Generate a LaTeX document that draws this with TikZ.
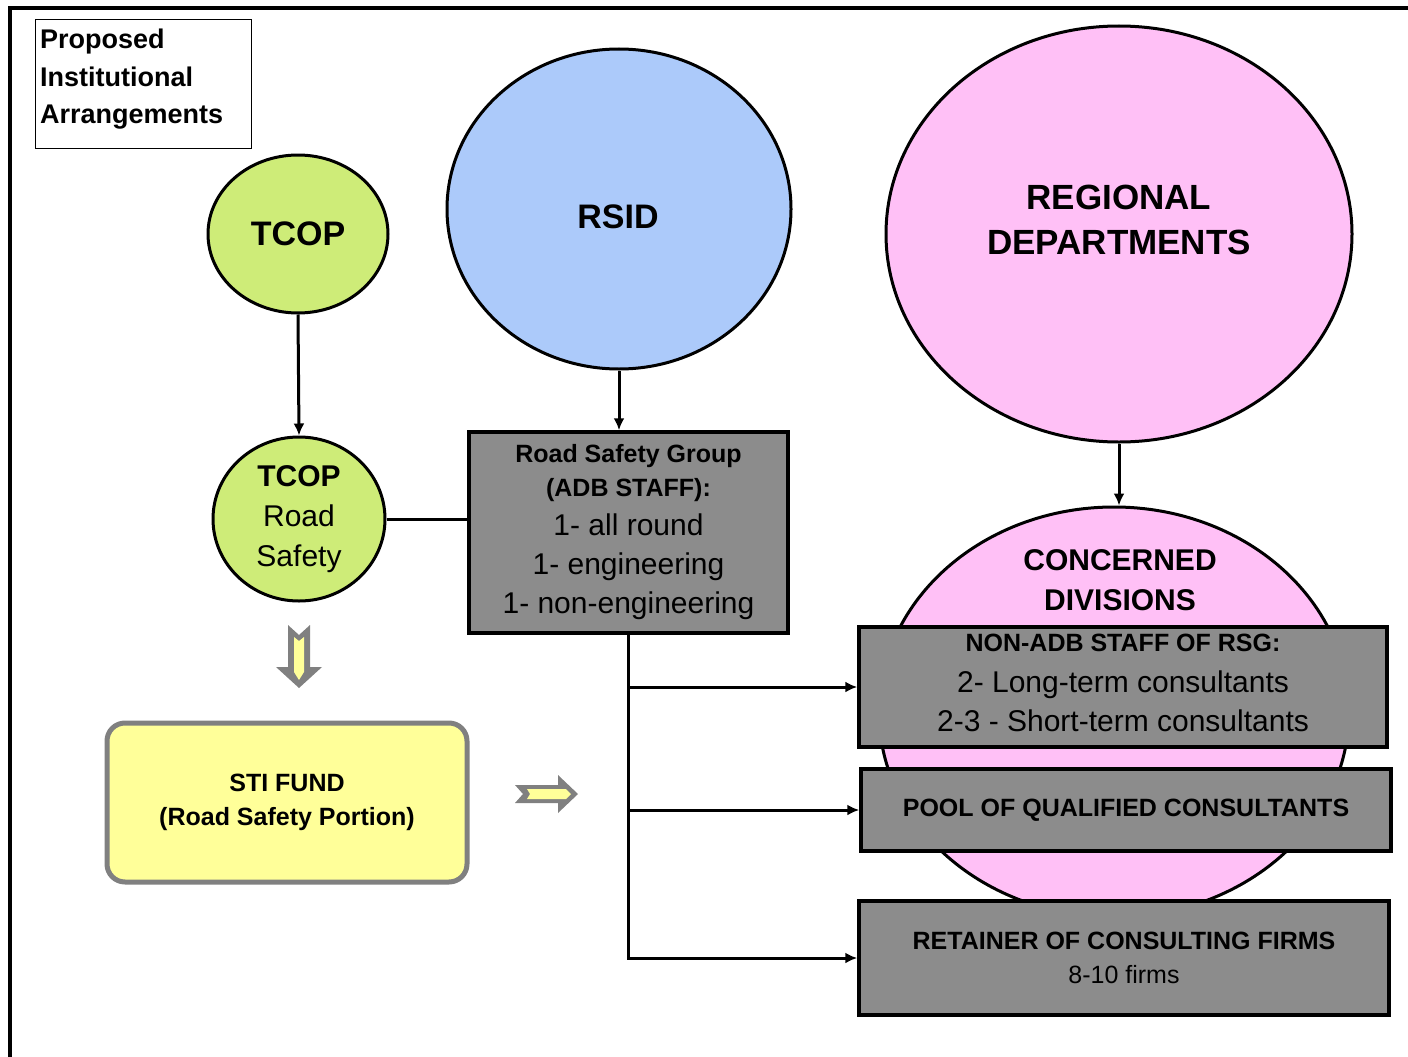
\documentclass[tikz,border=0pt]{standalone}
\usepackage{fontspec}
\setmainfont{Liberation Sans}
\usetikzlibrary{shapes.geometric,arrows.meta}

\definecolor{tcopgreen}{RGB}{206,236,120}
\definecolor{rsidblue}{RGB}{172,202,250}
\definecolor{regpink}{RGB}{255,192,246}
\definecolor{boxgrey}{RGB}{140,140,140}
\definecolor{fundyellow}{RGB}{255,255,153}
\definecolor{fundedge}{RGB}{128,128,128}

\newcommand*{\fsz}[2]{\fontsize{#1}{#2}\selectfont}

\tikzset{
	bubble/.style={ellipse, draw, line width=3pt, inner sep=0pt, align=center},
	greybox/.style={rectangle, draw, line width=3.5pt, fill=boxgrey, inner sep=0pt, align=center},
	fundbox/.style={rectangle, draw=fundedge, line width=5pt, fill=fundyellow, rounded corners=18pt, align=center},
	link/.style={line width=3pt, -{Latex[length=12pt,width=11pt]}},
	blockarrow/.style={fill=fundedge, draw=none},
	blockinner/.style={fill=fundyellow, draw=none}
}

\begin{document}
\begin{tikzpicture}[x=1pt, y=-1pt]
\useasboundingbox (0,0) rectangle (1408,1057);

% frame
\draw[line width=4pt] (10,1057) -- (10,8) -- (1408,8);

% title
\node[draw, line width=1pt, anchor=north west, minimum width=216pt, minimum height=129pt]
	(title) at (35,19) {};
\node[anchor=north west, inner sep=0pt, align=left, font=\fsz{27}{37.5}\bfseries]
	(titletext) at (40,29) {Proposed\\Institutional\\Arrangements};

% circles
\node[bubble, fill=tcopgreen, minimum width=180pt, minimum height=158pt,
	font=\fsz{34}{40}\bfseries] (tcop) at (298,234) {TCOP};
\node[bubble, fill=tcopgreen, minimum width=172pt, minimum height=164pt,
	font=\fsz{30}{40}] (tcoprs) at (299,519) {\textbf{TCOP}\\Road\\Safety};
\node[bubble, fill=rsidblue, minimum width=344pt, minimum height=320pt] (rsid) at (619,209) {};
\node[font=\fsz{34}{40}\bfseries] (rsidtext) at (618,217) {RSID};
\node[bubble, fill=regpink, minimum width=466pt, minimum height=416pt] (regdep) at (1119,234) {};
\node[font=\fsz{35}{45}\bfseries, align=center] (regdeptext) at (1119,220) {REGIONAL\\DEPARTMENTS};
\node[bubble, fill=regpink, minimum width=470pt, minimum height=410pt] (condiv) at (1114,712) {};
\node[font=\fsz{30}{40}\bfseries, align=center] (condivtext) at (1120,580) {CONCERNED\\DIVISIONS};

% grey boxes
\node[greybox, minimum width=319pt, minimum height=201pt, font=\fsz{30}{39}] (rsg) at (628.5,532.5)
	{{\fsz{25}{34}\bfseries Road Safety Group}\\[-5pt]{\fsz{25}{34}\bfseries (ADB STAFF):}\\1- all round\\1- engineering\\1- non-engineering};
\node[greybox, minimum width=528pt, minimum height=120pt, font=\fsz{30}{39}, text depth=8pt] (nonadb) at (1123,687)
	{{\fsz{25}{34}\bfseries NON-ADB STAFF OF RSG:}\\[2pt]2- Long-term consultants\\2-3 - Short-term consultants};
\node[greybox, minimum width=530pt, minimum height=82pt, font=\fsz{25}{34}\bfseries] (pool) at (1126,810)
	{POOL OF QUALIFIED CONSULTANTS};
\node[greybox, minimum width=530pt, minimum height=114pt, font=\fsz{25}{34}] (retainer) at (1124,958)
	{\textbf{RETAINER OF CONSULTING FIRMS}\\8-10 firms};

% fund
\node[fundbox, minimum width=360pt, minimum height=159pt, font=\fsz{25}{34}\bfseries] (sti) at (287,802.5)
	{STI FUND\\(Road Safety Portion)};

% connectors
\draw[link] (tcop.south) -- (tcoprs.north);
\draw[line width=3pt] (tcoprs.east) -- (rsg.west |- tcoprs.east);
\draw[link] (rsid.south) -- (rsid.south |- rsg.north);
\draw[link] (regdep.south) -- (regdep.south |- condiv.north);
\draw[link] (rsg.south) |- (retainer.west);
\draw[link] (rsg.south |- nonadb.west) -- (nonadb.west);
\draw[link] (rsg.south |- pool.west) -- (pool.west);

% block arrows
\fill[blockarrow] (288,625) -- (299,635) -- (310,625) -- (310,667) -- (322,667) -- (299,688)
	-- (276,667) -- (288,667) -- cycle;
\fill[blockinner] (294,637) -- (299,641) -- (304,637) -- (304,672) -- (299,680) -- (294,672) -- cycle;
\fill[blockarrow] (515,785) -- (558,785) -- (558,775) -- (578,794) -- (558,813) -- (558,803)
	-- (515,803) -- (523,794) -- cycle;
\fill[blockinner] (527,789) -- (566,789) -- (571,794) -- (566,799) -- (527,799) -- (530,794) -- cycle;

\end{tikzpicture}
\end{document}
